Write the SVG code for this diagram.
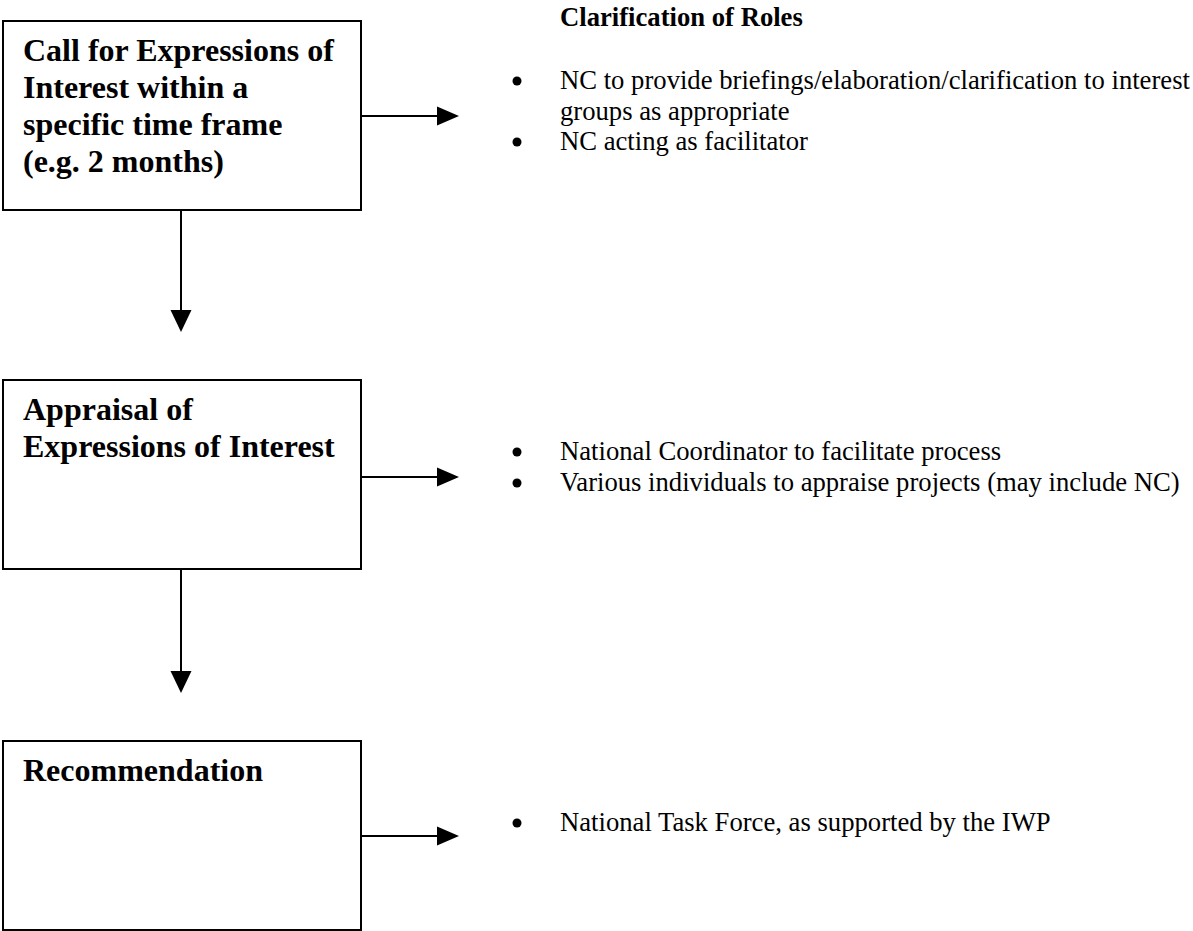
<svg xmlns="http://www.w3.org/2000/svg" width="1193" height="931" viewBox="0 0 1193 931">
<defs>
<style>
.box{fill:#fff;stroke:#000;stroke-width:2}
.conn{stroke:#000;stroke-width:2;fill:none}
.head{fill:#000;stroke:none}
.bt{font-family:"Liberation Serif","Times New Roman",serif;font-weight:bold;font-size:32px;fill:#000}
.rt{font-family:"Liberation Serif","Times New Roman",serif;font-size:26.67px;fill:#000}
.rh{font-family:"Liberation Serif","Times New Roman",serif;font-weight:bold;font-size:26.67px;fill:#000}
.bul{fill:#000}
</style>
</defs>
<rect width="1193" height="931" fill="#fff"/>
<g id="connectors">
<line class="conn" x1="362" y1="116" x2="438" y2="116"/>
<polygon class="head" points="437,106.5 459,116 437,125.5"/>
<line class="conn" x1="362" y1="477" x2="438" y2="477"/>
<polygon class="head" points="437,467.5 459,477 437,486.5"/>
<line class="conn" x1="362" y1="836" x2="438" y2="836"/>
<polygon class="head" points="437,826.5 459,836 437,845.5"/>
<line class="conn" x1="181" y1="211" x2="181" y2="311"/>
<polygon class="head" points="170.5,310 181,332 191.5,310"/>
<line class="conn" x1="181" y1="570" x2="181" y2="672"/>
<polygon class="head" points="170.5,671 181,693 191.5,671"/>
</g>
<g id="node-call">
<rect class="box" x="3" y="21" width="358" height="189"/>
<text class="bt" x="23" y="61">Call for Expressions of</text>
<text class="bt" x="23" y="98">Interest within a</text>
<text class="bt" x="23" y="135">specific time frame</text>
<text class="bt" x="23" y="172">(e.g. 2 months)</text>
</g>
<g id="node-appraisal">
<rect class="box" x="3" y="380" width="358" height="189"/>
<text class="bt" x="23" y="420">Appraisal of</text>
<text class="bt" x="23" y="457">Expressions of Interest</text>
</g>
<g id="node-recommendation">
<rect class="box" x="3" y="741" width="358" height="189"/>
<text class="bt" x="23" y="781">Recommendation</text>
</g>
<g id="roles-call">
<text class="rh" x="560" y="26">Clarification of Roles</text>
<circle class="bul" cx="517" cy="81" r="4.5"/>
<text class="rt" x="560" y="89">NC to provide briefings/elaboration/clarification to interest</text>
<text class="rt" x="560" y="120">groups as appropriate</text>
<circle class="bul" cx="517" cy="142" r="4.5"/>
<text class="rt" x="560" y="150">NC acting as facilitator</text>
</g>
<g id="roles-appraisal">
<circle class="bul" cx="517" cy="452" r="4.5"/>
<text class="rt" x="560" y="460">National Coordinator to facilitate process</text>
<circle class="bul" cx="517" cy="483" r="4.5"/>
<text class="rt" x="560" y="491">Various individuals to appraise projects (may include NC)</text>
</g>
<g id="roles-recommendation">
<circle class="bul" cx="517" cy="823" r="4.5"/>
<text class="rt" x="560" y="831">National Task Force, as supported by the IWP</text>
</g>
</svg>
